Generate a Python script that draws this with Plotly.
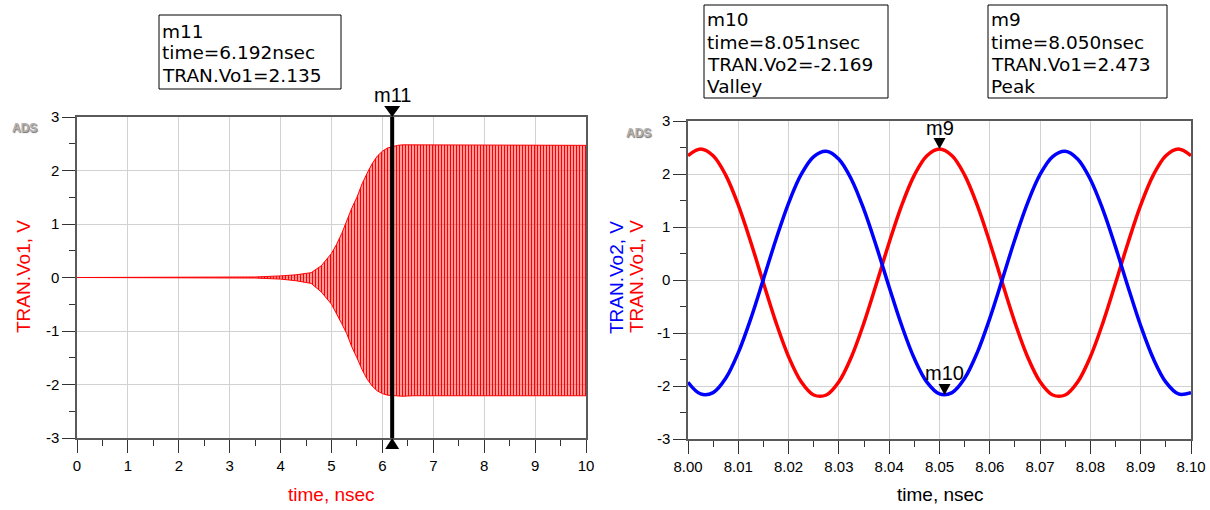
import plotly.graph_objects as go

# ---------------- data ----------------
# Left panel: start-up transient of TRAN.Vo1, described by its envelope
env_time = [0.0, 3.0, 3.5, 4.0, 4.3, 4.6, 4.8, 5.0, 5.1, 5.2, 5.3, 5.4, 5.5, 5.6,
            5.7, 5.8, 5.9, 6.0, 6.1, 6.2, 6.3, 6.4, 6.6, 7.0, 8.0, 9.0, 10.0]
env_upper = [0.0, 0.003, 0.01, 0.03, 0.05, 0.09, 0.22, 0.45, 0.62, 0.82, 1.06, 1.3, 1.5, 1.75,
             1.95, 2.13, 2.27, 2.36, 2.42, 2.45, 2.47, 2.48, 2.48, 2.47, 2.47, 2.47, 2.47]
env_lower = [0.0, -0.003, -0.01, -0.03, -0.06, -0.11, -0.27, -0.5, -0.67, -0.86, -1.05, -1.3, -1.5, -1.72,
             -1.9, -2.03, -2.12, -2.17, -2.2, -2.21, -2.22, -2.22, -2.21, -2.21, -2.21, -2.21, -2.21]

# Right panel: zoomed steady state 8.00 .. 8.10 ns
t_zoom = [8.0000, 8.0025, 8.0050, 8.0075, 8.0100, 8.0125, 8.0150, 8.0175, 8.0200, 8.0225,
          8.0250, 8.0275, 8.0300, 8.0325, 8.0350, 8.0375, 8.0400, 8.0425, 8.0450, 8.0475,
          8.0500, 8.0525, 8.0550, 8.0575, 8.0600, 8.0625, 8.0650, 8.0675, 8.0700, 8.0725,
          8.0750, 8.0775, 8.0800, 8.0825, 8.0850, 8.0875, 8.0900, 8.0925, 8.0950, 8.0975,
          8.1000]
vo1 = [2.345, 2.472, 2.345, 1.979, 1.413, 0.709, -0.058, -0.804, -1.448, -1.920,
       -2.170, -2.170, -1.920, -1.448, -0.804, -0.058, 0.709, 1.413, 1.979, 2.345,
       2.472, 2.345, 1.979, 1.413, 0.709, -0.058, -0.804, -1.448, -1.920, -2.170,
       -2.170, -1.920, -1.448, -0.804, -0.058, 0.709, 1.413, 1.979, 2.345, 2.472,
       2.345]
vo2 = [-1.929, -2.150, -2.125, -1.855, -1.370, -0.723, 0.017, 0.769, 1.452, 1.991,
       2.329, 2.429, 2.279, 1.897, 1.323, 0.620, -0.136, -0.864, -1.483, -1.928,
       -2.150, -2.125, -1.855, -1.370, -0.723, 0.017, 0.769, 1.452, 1.991, 2.329,
       2.429, 2.279, 1.897, 1.323, 0.620, -0.136, -0.864, -1.483, -1.928, -2.150,
       -2.125]

# markers
m11_time, m11_val = 6.192, 2.135
m9_time, m9_val = 8.050, 2.473
m10_time, m10_val = 8.051, -2.169

# tick labels
x1_ticks = [0, 1, 2, 3, 4, 5, 6, 7, 8, 9, 10]
x1_labels = ['0', '1', '2', '3', '4', '5', '6', '7', '8', '9', '10']
x2_ticks = [8.00, 8.01, 8.02, 8.03, 8.04, 8.05, 8.06, 8.07, 8.08, 8.09, 8.10]
x2_labels = ['8.00', '8.01', '8.02', '8.03', '8.04', '8.05', '8.06', '8.07', '8.08', '8.09', '8.10']
y_ticks = [-3, -2, -1, 0, 1, 2, 3]
y_labels = ['-3', '-2', '-1', '0', '1', '2', '3']

# ---------------- layout helpers ----------------
W, H = 1210, 510
FONT = 'Liberation Sans, Arial, sans-serif'
BOXFONT = 'DejaVu Sans, Verdana, sans-serif'


def px(x):
    return x / W


def py(y):
    return 1 - y / H


RED = '#ff0000'
BLUE = '#0000ff'
GRID = '#d2d2d2'
AXC = '#5a5a5a'

fig = go.Figure()

# left panel: envelope with vertical-stripe fill
fig.add_trace(go.Scatter(x=env_time, y=env_upper, mode='lines',
                         line=dict(color=RED, width=1), xaxis='x', yaxis='y',
                         showlegend=False, hoverinfo='skip'))
fig.add_trace(go.Scatter(x=env_time, y=env_lower, mode='lines',
                         line=dict(color=RED, width=1), xaxis='x', yaxis='y',
                         fill='tonexty',
                         fillpattern=dict(shape='|', fgcolor=RED, bgcolor='rgba(0,0,0,0)',
                                          size=3, solidity=0.6, fillmode='replace'),
                         showlegend=False, hoverinfo='skip'))

# right panel
fig.add_trace(go.Scatter(x=t_zoom, y=vo1, mode='lines',
                         line=dict(color=RED, width=3.5, shape='spline'),
                         xaxis='x2', yaxis='y2', showlegend=False))
fig.add_trace(go.Scatter(x=t_zoom, y=vo2, mode='lines',
                         line=dict(color=BLUE, width=3.5, shape='spline'),
                         xaxis='x2', yaxis='y2', showlegend=False))


def axis_common(ticks, labels):
    return dict(tickmode='array', tickvals=ticks, ticktext=labels,
                ticks='outside', ticklen=13, tickwidth=1, tickcolor='#333333',
                showgrid=True, gridcolor=GRID, gridwidth=1,
                showline=True, linecolor=AXC, linewidth=1.5, mirror=True,
                zeroline=False, automargin=False, fixedrange=True,
                tickfont=dict(family=FONT, size=15, color='black'))


xa1 = axis_common(x1_ticks, x1_labels)
xa1.update(domain=[px(77), px(586)], range=[0, 10], anchor='y',
           minor=dict(tickmode='linear', tick0=0, dtick=0.5, ticks='outside', ticklen=6,
                      tickcolor='#333333', showgrid=False))
ya1 = axis_common(y_ticks, y_labels)
ya1.update(domain=[py(438), py(117)], range=[-3, 3], anchor='x',
           minor=dict(tickmode='linear', tick0=0, dtick=0.5, ticks='outside', ticklen=6,
                      tickcolor='#333333', showgrid=False))
xa2 = axis_common(x2_ticks, x2_labels)
xa2.update(domain=[px(688), px(1191)], range=[8.0, 8.1], anchor='y2',
           minor=dict(tickmode='linear', tick0=8.0, dtick=0.005, ticks='outside', ticklen=6,
                      tickcolor='#333333', showgrid=False))
ya2 = axis_common(y_ticks, y_labels)
ya2.update(domain=[py(439), py(121)], range=[-3, 3], anchor='x2',
           minor=dict(tickmode='linear', tick0=0, dtick=0.5, ticks='outside', ticklen=6,
                      tickcolor='#333333', showgrid=False))

shapes = []
annotations = []

# m11 marker line + triangles
shapes.append(dict(type='line', xref='x', yref='y domain', x0=m11_time, x1=m11_time, y0=0, y1=1,
                   line=dict(color='black', width=4), layer='above'))
shapes.append(dict(type='path', xref='x', yref='y domain', xsizemode='pixel', ysizemode='pixel',
                   xanchor=m11_time, yanchor=1, path='M -8 11 L 8 11 L 0 0 Z',
                   fillcolor='black', line=dict(width=0)))
shapes.append(dict(type='path', xref='x', yref='y domain', xsizemode='pixel', ysizemode='pixel',
                   xanchor=m11_time, yanchor=0, path='M -7 -11 L 7 -11 L 0 0 Z',
                   fillcolor='black', line=dict(width=0)))
annotations.append(dict(text='m11', xref='x', yref='y domain', x=m11_time, y=1, yshift=22,
                        showarrow=False, xanchor='center', yanchor='middle',
                        font=dict(family=FONT, size=20, color='black')))

# m9 / m10 triangles
for (mt, mv, name, shift) in [(m9_time, m9_val, 'm9', 21), (m10_time, m10_val, 'm10', 22)]:
    shapes.append(dict(type='path', xref='x2', yref='y2', xsizemode='pixel', ysizemode='pixel',
                       xanchor=mt, yanchor=mv, path='M -6 11 L 6 11 L 0 0 Z',
                       fillcolor='black', line=dict(width=0)))
    annotations.append(dict(text=name, xref='x2', yref='y2', x=mt, y=mv, yshift=shift,
                            showarrow=False, xanchor='center', yanchor='middle',
                            font=dict(family=FONT, size=20, color='black')))

# marker readout boxes
boxes = [
    ((159, 15, 341, 89), ['m11', 'time=%.3fnsec' % m11_time, 'TRAN.Vo1=%.3f' % m11_val], [31, 53, 75]),
    ((704, 5, 888, 98), ['m10', 'time=%.3fnsec' % m10_time, 'TRAN.Vo2=%.3f' % m10_val, 'Valley'], [20, 42, 64, 86]),
    ((988, 5, 1167, 98), ['m9', 'time=%.3fnsec' % m9_time, 'TRAN.Vo1=%.3f' % m9_val, 'Peak'], [20, 42, 64, 86]),
]
for (x0, y0, x1, y1), lines, ys in boxes:
    shapes.append(dict(type='rect', xref='paper', yref='paper', x0=px(x0), x1=px(x1),
                       y0=py(y1), y1=py(y0), line=dict(color='black', width=1),
                       fillcolor='white', layer='below'))
    for txt, yc in zip(lines, ys):
        annotations.append(dict(text=txt, xref='paper', yref='paper', x=px(x0 + 2), y=py(yc),
                                xanchor='left', yanchor='middle', showarrow=False, borderpad=0,
                                font=dict(family=BOXFONT, size=18.5, color='black')))

# axis titles
annotations.append(dict(text='time, nsec', xref='paper', yref='paper', x=px(331), y=py(494),
                        showarrow=False, xanchor='center', yanchor='middle',
                        font=dict(family=FONT, size=19, color=RED)))
annotations.append(dict(text='time, nsec', xref='paper', yref='paper', x=px(940), y=py(494),
                        showarrow=False, xanchor='center', yanchor='middle',
                        font=dict(family=FONT, size=19, color='black')))
annotations.append(dict(text='TRAN.Vo1, V', xref='paper', yref='paper', x=px(23), y=py(277),
                        showarrow=False, textangle=-90, xanchor='center', yanchor='middle',
                        font=dict(family=FONT, size=19, color=RED)))
annotations.append(dict(text='TRAN.Vo2, V', xref='paper', yref='paper', x=px(616), y=py(277),
                        showarrow=False, textangle=-90, xanchor='center', yanchor='middle',
                        font=dict(family=FONT, size=19, color=BLUE)))
annotations.append(dict(text='TRAN.Vo1, V', xref='paper', yref='paper', x=px(636), y=py(277),
                        showarrow=False, textangle=-90, xanchor='center', yanchor='middle',
                        font=dict(family=FONT, size=19, color=RED)))

# ADS logos
for (lx, ly) in [(24, 128), (638, 133)]:
    annotations.append(dict(text='<b>ADS</b>', xref='paper', yref='paper', x=px(lx), y=py(ly),
                            showarrow=False, xanchor='center', yanchor='middle',
                            font=dict(family=FONT, size=12, color='#b0b0b0',
                                      shadow='1px 1px 1px #707070')))

fig.update_layout(
    width=W, height=H,
    margin=dict(l=0, r=0, t=0, b=0),
    paper_bgcolor='white', plot_bgcolor='white',
    xaxis=xa1, yaxis=ya1, xaxis2=xa2, yaxis2=ya2,
    shapes=shapes, annotations=annotations,
    showlegend=False,
    font=dict(family=FONT),
)

fig.write_html('out.html', config={'displayModeBar': False},
               post_script="document.body.style.margin='0px';document.body.style.overflow='hidden';")
